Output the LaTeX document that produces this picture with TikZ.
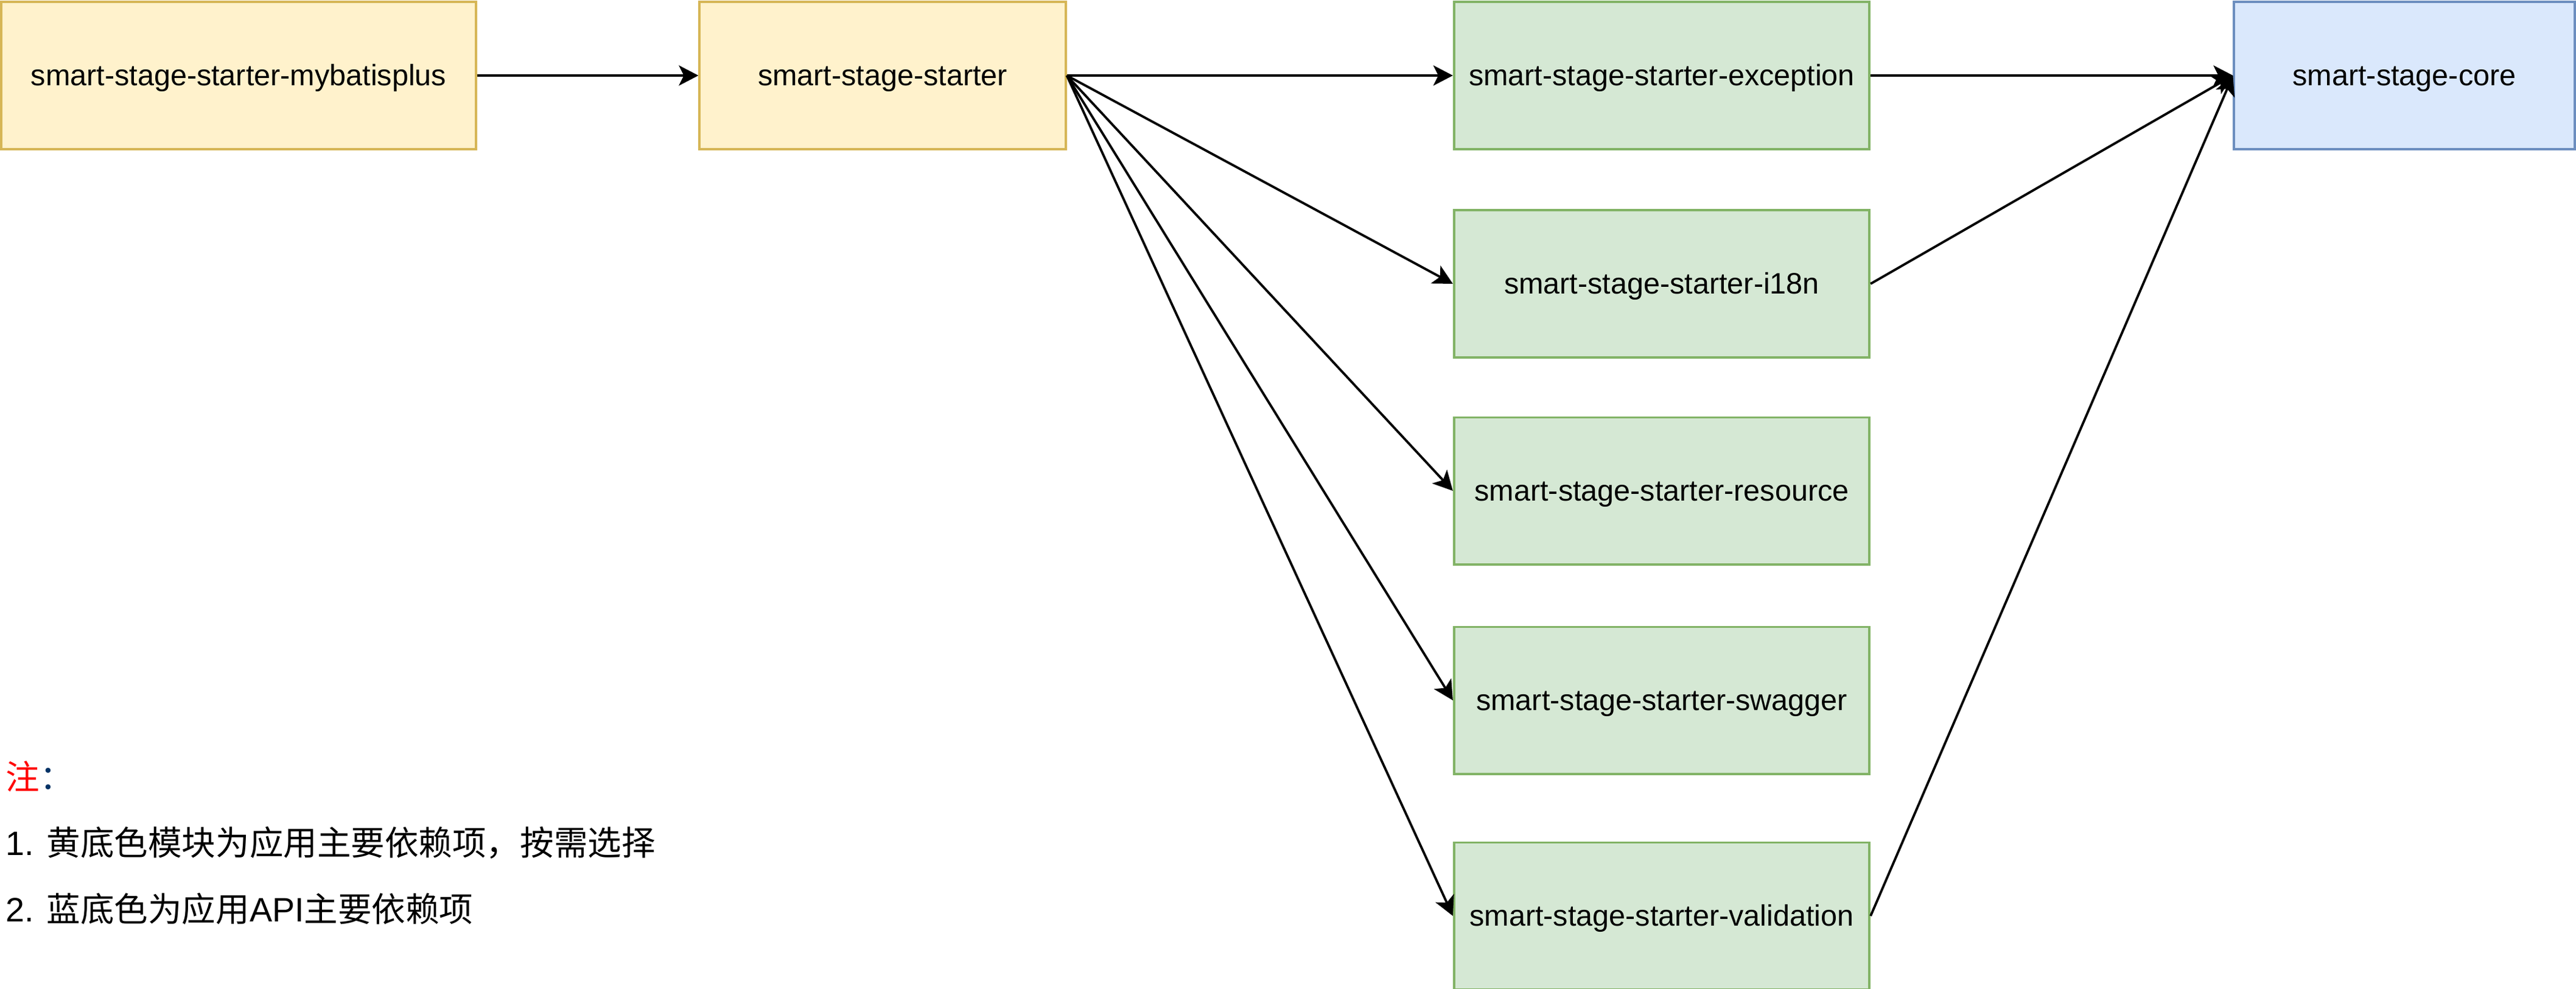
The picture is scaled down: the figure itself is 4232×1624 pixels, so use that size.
\documentclass[tikz,border=0pt]{standalone}
\usepackage{fontspec}
\setmainfont{Liberation Sans}
\newfontfamily\cjkfont{Noto Sans CJK SC}
\usepackage{tikz}
\usetikzlibrary{arrows.meta,positioning}
\usepackage{xcolor}
\definecolor{startercolor}{HTML}{FFF2CC}
\definecolor{starterline}{HTML}{D6B656}
\definecolor{featurecolor}{HTML}{D5E8D4}
\definecolor{featureline}{HTML}{82B366}
\definecolor{corecolor}{HTML}{DAE8FC}
\definecolor{coreline}{HTML}{6C8EBF}
\definecolor{notecolor}{RGB}{0, 51, 102}

\begin{document}
\begin{tikzpicture}[x=0.01cm, y=-0.01cm,
    module/.style={rectangle, draw, line width=1.1pt, minimum height=2.41cm, inner sep=0pt, text height=12.5pt, text depth=2.9pt, align=center, font=\fontsize{13.8pt}{16pt}\selectfont},
    starter/.style={module, fill=startercolor, draw=starterline},
    feature/.style={module, fill=featurecolor, draw=featureline, minimum width=6.82cm},
    arrow/.style={-{Stealth[length=0.32cm, width=0.33cm, inset=0.08cm]}, line width=1.1pt},
    note/.style={anchor=west, inner sep=0pt, font=\fontsize{15.8pt}{18pt}\selectfont}
]
    \useasboundingbox (0,0) rectangle (4232,1624);

    % Starter modules
    \node[starter, minimum width=7.79cm] (mybatis) at (392, 124) {smart-stage-starter-mybatisplus};
    \node[starter, minimum width=6.01cm] (starter) at (1450, 124) {smart-stage-starter};

    % Feature starters
    \node[feature] (exception) at (2730, 124) {smart-stage-starter-exception};
    \node[feature] (i18n) at (2730, 466) {smart-stage-starter-i18n};
    \node[feature] (resource) at (2730, 806) {smart-stage-starter-resource};
    \node[feature] (swagger) at (2730, 1150) {smart-stage-starter-swagger};
    \node[feature] (validation) at (2730, 1504) {smart-stage-starter-validation};

    % Core
    \node[module, fill=corecolor, draw=coreline, minimum width=5.59cm] (core) at (3950, 124) {smart-stage-core};

    % Arrows
    \draw[arrow] (mybatis.east) -- (starter.west);

    \draw[arrow] (starter.east) -- (exception.west);
    \draw[arrow] (starter.east) -- (i18n.west);
    \draw[arrow] (starter.east) -- (resource.west);
    \draw[arrow] (starter.east) -- (swagger.west);
    \draw[arrow] (starter.east) -- (validation.west);

    \draw[arrow] (exception.east) -- (core.west);
    \draw[arrow] (i18n.east) -- (core.west);
    \draw[arrow] (validation.east) -- (core.west);

    % Note
    \node[note] (notehead) at (9, 1275) {\cjkfont\textcolor{red}{注}\textcolor{notecolor}{：}};
    \node[note] (noteone) at (9, 1384) {1. {\cjkfont 黄底色模块为应用主要依赖项，按需选择}};
    \node[note] (notetwo) at (9, 1492) {2. {\cjkfont 蓝底色为应用}API{\cjkfont 主要依赖项}};
\end{tikzpicture}
\end{document}
